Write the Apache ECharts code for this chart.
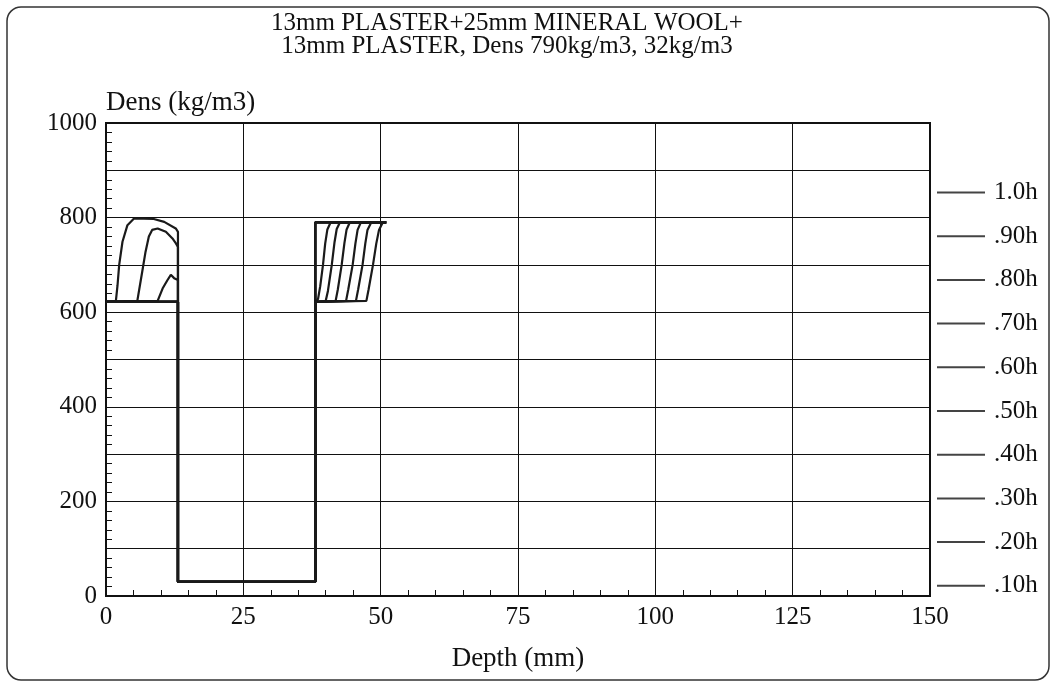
<!DOCTYPE html>
<html>
<head>
<meta charset="utf-8">
<script src="https://cdn.jsdelivr.net/npm/echarts@6/dist/echarts.min.js"></script>
<style>
  html, body { margin: 0; padding: 0; background: #fff; }
  #chart { width: 1054px; height: 685px; }
</style>
</head>
<body>
<div id="chart"></div>
<script>
// time steps, legend order bottom -> top
var hours = ['.10h', '.20h', '.30h', '.40h', '.50h', '.60h', '.70h', '.80h', '.90h', '1.0h'];

// first plaster board (fire side, 0-13 mm), [depth, density]
var front10h = [[0,622],[1.8,624],[2.1,657],[2.4,700],[3.0,749],[3.9,784],[5.1,798],[6.9,798],[8.7,797],[10.6,791],[12.7,777],[13.1,770]];
var front20h = [[0,622],[5.7,624],[6.6,686],[7.2,728],[7.8,760],[8.4,774],[9.4,777],[10.9,770],[12.1,756],[12.7,746],[13.1,738]];
var front30h = [[0,622],[9.4,624],[10.3,650],[11.2,668],[11.8,679],[12.4,672],[13.1,668]];
var frontDry = [[0,622],[13.1,622]];

// mineral wool (13-38 mm)
var wool = [[13.1,30],[38.1,30]];

// second plaster board (38-51 mm)
var backWet = [[38.1,790],[51,790]];
var back50h = [[38.1,622],[38.6,628],[39.0,655],[39.5,700],[39.9,745],[40.3,775],[40.9,790],[51,790]];
var back60h = [[38.1,622],[40.0,624],[40.4,645],[41.1,700],[41.6,748],[42.0,776],[42.6,790],[51,790]];
var back70h = [[38.1,622],[41.8,624],[42.2,648],[42.9,700],[43.4,746],[43.8,775],[44.4,790],[51,790]];
var back80h = [[38.1,622],[43.7,624],[44.1,648],[44.9,700],[45.4,745],[45.8,774],[46.4,790],[51,790]];
var back90h = [[38.1,622],[45.5,624],[45.9,648],[46.7,700],[47.2,745],[47.6,774],[48.3,790],[51,790]];
var back100h = [[38.1,622],[47.4,624],[47.8,648],[48.6,700],[49.2,745],[49.7,774],[50.4,790],[51,790]];

var frontByHour = [front10h, front20h, front30h, frontDry, frontDry, frontDry, frontDry, frontDry, frontDry, frontDry];
var backByHour = [backWet, backWet, backWet, backWet, back50h, back60h, back70h, back80h, back90h, back100h];

var font = 'Liberation Serif';

var series = [];
hours.forEach(function (h, i) {
    series.push({
        name: h,
        type: 'line',
        showSymbol: false,
        symbol: 'none',
        animation: false,
        lineStyle: { color: '#1a1a1a', width: 2.2 },
        itemStyle: { color: '#444' },
        data: frontByHour[i].concat(wool, backByHour[i])
    });
});

var option = {
    animation: false,
    backgroundColor: '#fff',
    title: {
        text: '13mm PLASTER+25mm MINERAL WOOL+\n13mm PLASTER, Dens 790kg/m3, 32kg/m3',
        left: 502,
        textAlign: 'center',
        top: 7,
        textStyle: { fontFamily: font, fontSize: 25, fontWeight: 'normal', color: '#111', lineHeight: 23 }
    },
    legend: {
        data: hours.slice().reverse(),
        orient: 'vertical',
        left: 932,
        top: 175,
        icon: 'rect',
        itemWidth: 48,
        itemHeight: 2,
        itemGap: 18.7,
        textStyle: { fontFamily: font, fontSize: 25, color: '#111', padding: [0, 0, 0, 4] }
    },
    grid: {
        left: 106,
        right: 124,
        top: 123,
        bottom: 89,
        show: true,
        borderColor: '#111',
        borderWidth: 2
    },
    xAxis: {
        type: 'value',
        min: 0,
        max: 150,
        interval: 25,
        name: 'Depth (mm)',
        nameLocation: 'middle',
        nameGap: 49,
        nameTextStyle: { fontFamily: font, fontSize: 27, color: '#111' },
        axisLine: { lineStyle: { color: '#111', width: 2 } },
        axisTick: { inside: true, length: 6, lineStyle: { color: '#111' } },
        minorTick: { show: true, splitNumber: 5, length: 6, lineStyle: { color: '#111' } },
        axisLabel: { fontFamily: font, fontSize: 25, color: '#111', margin: 9 },
        splitLine: { show: true, lineStyle: { color: '#111', width: 1 } }
    },
    yAxis: {
        type: 'value',
        min: 0,
        max: 1000,
        interval: 100,
        name: 'Dens (kg/m3)',
        nameLocation: 'end',
        nameGap: 7,
        nameTextStyle: { fontFamily: font, fontSize: 27, color: '#111', align: 'left', verticalAlign: 'bottom' },
        axisLine: { lineStyle: { color: '#111', width: 2 } },
        axisTick: { inside: true, length: 8, lineStyle: { color: '#111' } },
        minorTick: { show: true, splitNumber: 5, length: 6, lineStyle: { color: '#111' } },
        axisLabel: {
            fontFamily: font, fontSize: 25, color: '#111', margin: 9,
            formatter: function (v) { return v % 200 === 0 ? String(v) : ''; }
        },
        splitLine: { show: true, lineStyle: { color: '#111', width: 1 } }
    },
    graphic: [{
        type: 'rect',
        shape: { x: 7, y: 7, width: 1042, height: 673, r: 14 },
        style: { fill: 'none', stroke: '#333', lineWidth: 1.5 },
        silent: true,
        z: -1
    }],
    series: series
};

var chart = echarts.init(document.getElementById('chart'));
chart.setOption(option);
window.addEventListener('resize', chart.resize);
</script>
</body>
</html>
